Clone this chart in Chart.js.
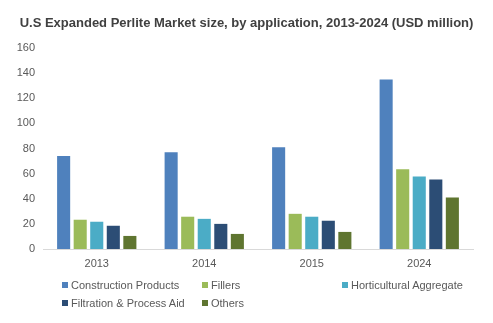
<!DOCTYPE html>
<html lang="en">
<head>
  <meta charset="UTF-8">
  <title>U.S Expanded Perlite Market size</title>
  <script src="https://cdn.jsdelivr.net/npm/chart.js"></script>
  <style>
    body {
      margin: 0;
      padding: 0;
      background-color: #ffffff;
      font-family: Arial, "Liberation Sans", sans-serif;
    }

    #chart-container {
      position: relative;
      width: 493px;
      height: 323px;
    }

    #title {
      position: absolute;
      left: 0;
      top: 15px;
      width: 493px;
      text-align: center;
      font-size: 13px;
      font-weight: bold;
      color: #404040;
      white-space: nowrap;
    }

    #legend {
      position: absolute;
      left: 62px;
      top: 278px;
      display: grid;
      grid-template-columns: 140px 140px 140px;
      row-gap: 4px;
      font-size: 11px;
      color: #595959;
    }

    .legend-item {
      display: flex;
      align-items: center;
      height: 14px;
      white-space: nowrap;
    }

    .legend-box {
      width: 6px;
      height: 6px;
      margin-right: 3px;
    }
  </style>
</head>
<body>
  <div id="chart-container">
    <canvas id="perliteChart" width="493" height="323"></canvas>
    <div id="title">U.S Expanded Perlite Market size, by application, 2013-2024 (USD million)</div>
    <div id="legend"></div>
  </div>

  <script>
    // 데이터
    const years = ['2013', '2014', '2015', '2024'];
    const construction = [74, 77, 81, 135];
    const fillers = [23.3, 25.7, 28, 63.4];
    const horticultural = [21.7, 24, 25.7, 57.8];
    const filtration = [18.5, 20, 22.5, 55.4];
    const others = [10.4, 12, 13.6, 41];
    const yTicks = [0, 20, 40, 60, 80, 100, 120, 140, 160];

    const seriesNames = ['Construction Products', 'Fillers', 'Horticultural Aggregate', 'Filtration & Process Aid', 'Others'];
    const seriesValues = [construction, fillers, horticultural, filtration, others];
    const seriesColors = ['#4f81bd', '#9bbb59', '#4bacc6', '#2c4d75', '#5f7530'];

    const datasets = seriesNames.map((name, i) => ({
      label: name,
      data: seriesValues[i],
      backgroundColor: seriesColors[i],
      barPercentage: 0.79,
      categoryPercentage: 0.77,
    }));

    const ctx = document.getElementById('perliteChart').getContext('2d');
    const chart = new Chart(ctx, {
      type: 'bar',
      data: { labels: years, datasets: datasets },
      options: {
        responsive: false,
        animation: false,
        layout: { padding: { left: 0, right: 20, top: 48, bottom: 44 } },
        plugins: {
          legend: { display: false },
          tooltip: { enabled: false },
        },
        scales: {
          x: {
            grid: { display: false, drawTicks: false },
            border: { color: '#d9d9d9' },
            ticks: { color: '#595959', padding: 8, font: { family: 'Arial', size: 11 } },
            afterFit: s => { s.height = 30; },
          },
          y: {
            min: 0,
            max: 160,
            afterBuildTicks: s => { s.ticks = yTicks.map(v => ({ value: v })); },
            grid: { display: false, drawTicks: false },
            border: { display: false },
            ticks: { color: '#595959', padding: 8, font: { family: 'Arial', size: 11 } },
            afterFit: s => { s.width = 43; },
          },
        },
      },
    });

    // 범례
    const legend = document.getElementById('legend');
    chart.data.datasets.forEach((ds, i) => {
      const item = document.createElement('div');
      item.className = 'legend-item';
      if (i === 3) item.style.gridColumn = '1';
      const box = document.createElement('span');
      box.className = 'legend-box';
      box.style.backgroundColor = ds.backgroundColor;
      const label = document.createElement('span');
      label.textContent = ds.label;
      item.appendChild(box);
      item.appendChild(label);
      legend.appendChild(item);
    });
  </script>
</body>
</html>
